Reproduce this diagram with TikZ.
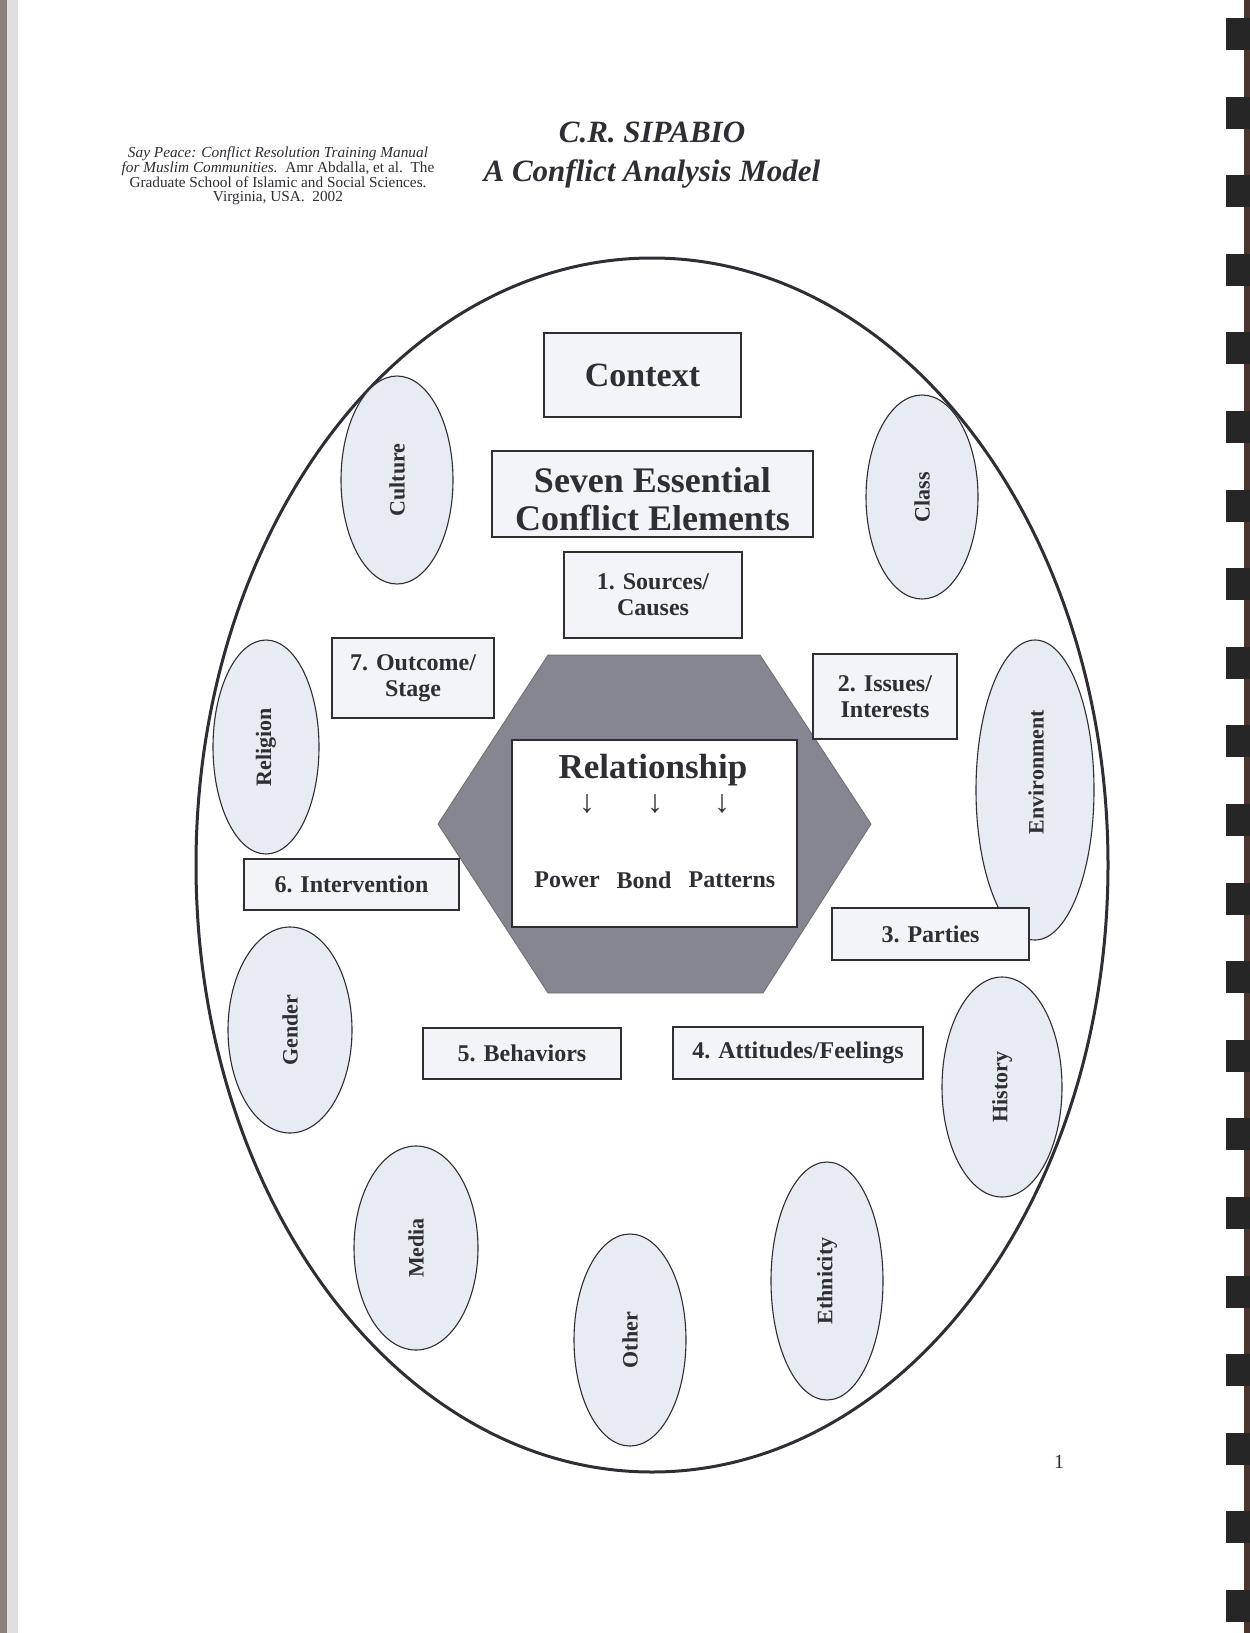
\documentclass[tikz,border=0pt]{standalone}
\usepackage{fontspec}
\setmainfont{Liberation Serif}
\usetikzlibrary{shapes.geometric}
\definecolor{ink}{HTML}{2E2E34}
\definecolor{boxfill}{HTML}{F2F4F7}
\definecolor{ellfill}{HTML}{E7EBF2}
\definecolor{hexfill}{HTML}{85868F}
\definecolor{bindbrown}{HTML}{4A3530}
\definecolor{edgegray}{HTML}{8C807C}
\begin{document}
\begin{tikzpicture}[x=1pt,y=-1pt,
  elbox/.style={draw=ink, line width=1.4pt, fill=boxfill, inner sep=0pt, text=ink, align=center,
    font=\bfseries\fontsize{24}{26}\selectfont},
  bigbox/.style={elbox, font=\bfseries\fontsize{34}{37}\selectfont},
  oval/.style={draw=ink, line width=1.1pt, fill=ellfill, ellipse, inner sep=0pt, rotate=90, text=ink,
    font=\bfseries\fontsize{22}{24}\selectfont},
  ovaltext/.style={rotate=90, text=ink, inner sep=0pt, font=\bfseries\fontsize{22}{24}\selectfont},
  reltext/.style={text=ink, inner sep=0pt, font=\bfseries\fontsize{24}{26}\selectfont},
  arrowglyph/.style={text=ink, inner sep=0pt, font=\fontsize{32}{34}\selectfont}]
% page
\fill[white] (0,0) rectangle (1250,1633);
\useasboundingbox (0,0) rectangle (1250,1633);
% scan edges
\fill[edgegray] (0,0) rectangle (7,1633);
\fill[gray!25] (7,0) rectangle (18,1633);
\fill[bindbrown] (1244,0) rectangle (1250,1633);
\foreach \k in {0,...,20}{
  \fill[black!85] (1226,{18+\k*78.6}) rectangle (1250,{50+\k*78.6});
}
% title and citation
\node[text=ink, font=\bfseries\itshape\fontsize{31}{39}\selectfont, align=center, inner sep=0pt]
  (title) at (652,155) {C.R. SIPABIO\\A Conflict Analysis Model};
\node[text=ink, font=\fontsize{15.3}{14}\selectfont, align=center, inner sep=0pt]
  (cite) at (278,176) {\textit{Say Peace: Conflict Resolution Training Manual}\\
  \textit{for Muslim Communities.}\ \ Amr Abdalla, et al.\ \ The\\
  Graduate School of Islamic and Social Sciences.\\
  Virginia, USA.\ \ 2002};
% big ellipse
\draw[ink, line width=3pt] (652,865) ellipse [x radius=456, y radius=607];
% outer ovals
\node[oval, minimum width=208pt, minimum height=112pt] (culture) at (397,480) {Culture};
\node[oval, minimum width=204pt, minimum height=112pt] (class) at (922,497) {Class};
\node[oval, minimum width=214pt, minimum height=106pt] (religion) at (266,747) {Religion};
\node[oval, minimum width=300pt, minimum height=118pt] (environment) at (1035,790) {};
\node[ovaltext] (envtext) at (1036,772) {Environment};
\node[oval, minimum width=206pt, minimum height=124pt] (gender) at (290,1030) {Gender};
\node[oval, minimum width=220pt, minimum height=120pt] (history) at (1002,1087) {History};
\node[oval, minimum width=204pt, minimum height=124pt] (media) at (416,1248) {Media};
\node[oval, minimum width=212pt, minimum height=112pt] (other) at (630,1340) {Other};
\node[oval, minimum width=238pt, minimum height=112pt] (ethnicity) at (827,1281) {Ethnicity};
% hexagon
\coordinate (h1) at (548,655);
\coordinate (h2) at (760,655);
\coordinate (h3) at (871,824);
\coordinate (h4) at (763,993);
\coordinate (h5) at (548,993);
\coordinate (h6) at (438,824);
\filldraw[fill=hexfill, draw=ink!70, line width=0.8pt] (h1) -- (h2) -- (h3) -- (h4) -- (h5) -- (h6) -- cycle;
% relationship box
\node[draw=ink, line width=1.4pt, fill=white, minimum width=285pt, minimum height=187pt, inner sep=0pt]
  (relbox) at (654.5,833.5) {};
\node[text=ink, inner sep=0pt, font=\bfseries\fontsize{35}{38}\selectfont] (rel) at (653,770) {Relationship};
\node[arrowglyph] (a1) at (587,804) {↓};
\node[arrowglyph] (a2) at (655,804) {↓};
\node[arrowglyph] (a3) at (722,804) {↓};
\node[reltext] (power) at (567,880) {Power};
\node[reltext] (bond) at (644,880) {Bond};
\node[reltext] (patterns) at (732,880) {Patterns};
% boxes
\node[bigbox, minimum width=197pt, minimum height=84pt] (context) at (642.5,375) {Context};
\node[bigbox, minimum width=321pt, minimum height=86pt] (seven) at (652.5,494) {};
\node[text=ink, align=center, inner sep=0pt, font=\bfseries\fontsize{36}{38}\selectfont] (seventext) at (652.5,499) {Seven Essential\\Conflict Elements};
\node[elbox, minimum width=178pt, minimum height=86pt] (sources) at (653,595) {1. Sources/\\Causes};
\node[elbox, minimum width=144pt, minimum height=85pt] (issues) at (885,696.5) {2. Issues/\\Interests};
\node[elbox, minimum width=197pt, minimum height=52pt] (parties) at (930.5,934) {3. Parties};
\node[elbox, minimum width=250pt, minimum height=52pt] (attitudes) at (798,1053) {4. Attitudes/Feelings};
\node[elbox, minimum width=198pt, minimum height=51pt] (behaviors) at (522,1053.5) {5. Behaviors};
\node[elbox, minimum width=215pt, minimum height=51pt] (intervention) at (351.5,884.5) {6. Intervention};
\node[elbox, minimum width=162pt, minimum height=80pt] (outcome) at (413,678) {7. Outcome/\\Stage};
% page number
\node[text=ink, inner sep=0pt, font=\fontsize{20}{22}\selectfont] (pagenum) at (1059,1462) {1};
\end{tikzpicture}
\end{document}
